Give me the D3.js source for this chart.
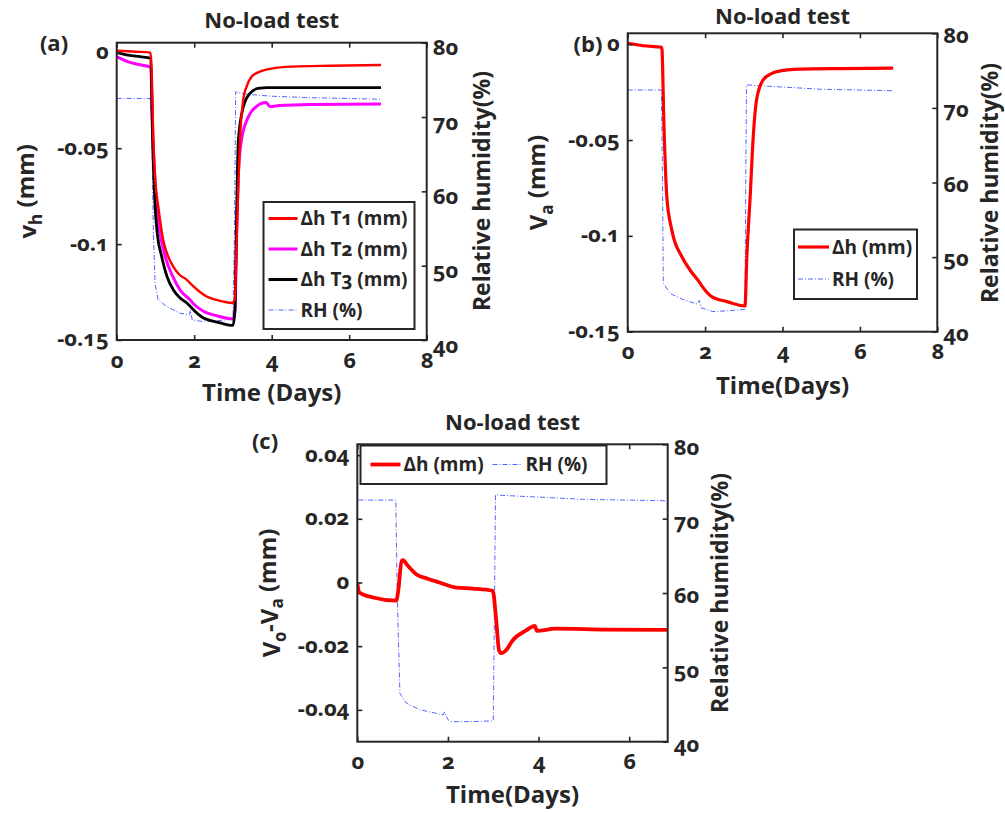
<!DOCTYPE html>
<html><head><meta charset="utf-8">
<script src="https://cdn.jsdelivr.net/npm/d3@7"></script>
<style>
body{margin:0;background:#fff}
text{font-family:"Open Sans","Noto Sans",sans-serif;font-weight:700;fill:#262626;font-feature-settings:"onum" 1;font-variant-numeric:oldstyle-nums}
</style>
</head><body>
<svg id="chart" width="1005" height="813"></svg>
<script>
// ---------------- DATA ----------------
const panelTitles = ["No-load test", "No-load test", "No-load test"];
const panelTags = ["(a)", "(b)", "(c)"];
const xTicksAB = [0, 2, 4, 6, 8];
const xTicksC = [0, 2, 4, 6];
const yTicksAB = [0, -0.05, -0.1, -0.15];
const yTicksC = [0.04, 0.02, 0, -0.02, -0.04];
const rhTicks = [40, 50, 60, 70, 80];
const legendA = ["Δh T1 (mm)", "Δh T2 (mm)", "Δh T3 (mm)", "RH (%)"];
const legendB = ["Δh (mm)", "RH (%)"];

// Panel (a)
const aT1Time = [0, 0.5, 0.87, 0.9, 0.945, 1.0, 1.07, 1.2, 1.32, 1.46, 1.62, 1.81, 1.9, 1.98, 2.15, 2.32, 2.55, 2.75, 3.0, 3.05, 3.1, 3.18, 3.27, 3.35, 3.48, 3.65, 3.83, 4.0, 4.52, 5.5, 6.82];
const aT1 = [0.0008, 0.0003, -0.0002, -0.008, -0.0457, -0.068, -0.080, -0.0978, -0.106, -0.1117, -0.1160, -0.1186, -0.1205, -0.122, -0.125, -0.1273, -0.129, -0.130, -0.1307, -0.128, -0.095, -0.0457, -0.024, -0.018, -0.0127, -0.0105, -0.0092, -0.0085, -0.0075, -0.007, -0.0066];
const aT2Time = [0, 0.3, 0.6, 0.88, 0.92, 1.03, 1.1, 1.25, 1.45, 1.63, 1.89, 2.0, 2.24, 2.6, 3.0, 3.05, 3.1, 3.14, 3.22, 3.4, 3.6, 3.86, 3.95, 4.2, 5.0, 6.82];
const aT2 = [-0.0023, -0.005, -0.0065, -0.0078, -0.035, -0.080, -0.092, -0.1064, -0.117, -0.1238, -0.129, -0.1315, -0.135, -0.1375, -0.139, -0.135, -0.09, -0.063, -0.0457, -0.0335, -0.0283, -0.0262, -0.0283, -0.0278, -0.0272, -0.0270];
const aT3Time = [0, 0.3, 0.6, 0.88, 0.92, 0.99, 1.05, 1.16, 1.3, 1.46, 1.63, 1.81, 1.9, 1.98, 2.1, 2.24, 2.45, 2.67, 3.0, 3.05, 3.09, 3.14, 3.27, 3.44, 3.65, 3.9, 4.5, 6.82];
const aT3 = [0, -0.0015, -0.0023, -0.0031, -0.04, -0.080, -0.095, -0.1064, -0.117, -0.1238, -0.128, -0.1307, -0.1325, -0.1342, -0.1365, -0.1385, -0.1400, -0.1411, -0.1424, -0.135, -0.09, -0.0457, -0.0283, -0.0214, -0.0188, -0.0184, -0.0184, -0.0184];
const aRHTime = [0, 0.5, 0.86, 0.9, 0.945, 0.99, 1.07, 1.29, 1.63, 1.88, 1.9, 1.95, 2.2, 2.6, 3.0, 3.04, 3.07, 3.2, 3.5, 4.0, 5.0, 6.82];
const aRH = [72.5, 72.5, 72.5, 70, 55, 47.6, 45.4, 44.5, 43.6, 43.4, 44.0, 42.7, 42.5, 42.6, 42.8, 55, 73.4, 73.2, 73.0, 72.8, 72.6, 72.4];

// Panel (b)
const bDhTime = [0, 0.4, 0.88, 0.94, 1.01, 1.14, 1.4, 1.61, 1.87, 1.93, 2.17, 2.56, 3.03, 3.08, 3.16, 3.25, 3.33, 3.5, 3.7, 3.85, 4.45, 5.5, 6.86];
const bDh = [0.0005, -0.0008, -0.0016, -0.0447, -0.0795, -0.097, -0.1109, -0.1178, -0.1247, -0.1265, -0.1317, -0.1343, -0.1366, -0.11, -0.0813, -0.0464, -0.029, -0.0186, -0.0155, -0.0143, -0.013, -0.0127, -0.0125];
const bRHTime = [0, 0.5, 0.87, 0.9, 0.92, 1.1, 1.46, 1.8, 1.85, 1.9, 2.2, 2.6, 3.03, 3.05, 3.07, 3.3, 4.0, 5.0, 6.86];
const bRH = [72.4, 72.4, 72.4, 60, 46.5, 45.1, 44.25, 43.7, 44.2, 43.2, 42.7, 42.8, 43.0, 60, 73.1, 73.0, 72.8, 72.5, 72.3];

// Panel (c)
const cDhTime = [0, 0.04, 0.35, 0.86, 0.9, 0.98, 1.01, 1.1, 1.3, 1.55, 1.81, 2.18, 2.55, 2.99, 3.06, 3.13, 3.18, 3.3, 3.42, 3.71, 3.92, 3.96, 4.37, 5.5, 6.85];
const cDh = [0, -0.0031, -0.0047, -0.0057, -0.003, 0.0068, 0.0070, 0.0055, 0.0026, 0.0012, 0, -0.0016, -0.0019, -0.0026, -0.011, -0.0214, -0.0222, -0.021, -0.0183, -0.0152, -0.0136, -0.0152, -0.0145, -0.0148, -0.0149];
const cRHTime = [0, 0.01, 0.5, 0.85, 0.88, 0.94, 1.08, 1.38, 1.9, 1.92, 2.0, 2.05, 2.5, 3.0, 3.03, 3.05, 3.3, 4.0, 5.0, 6.85];
const cRH = [80.5, 72.5, 72.5, 72.5, 60, 46.5, 45.2, 44.3, 43.6, 44.0, 43.0, 42.7, 42.7, 42.8, 60, 73.2, 73.1, 72.9, 72.6, 72.4];

// ---------------- DRAWING ----------------
const svg = d3.select("#chart");
const TXT = "#262626";

function label(parent, x, y, content, o = {}) {
  const size = o.size || 20, anchor = o.anchor || "middle", rot = o.rot || 0;
  const t = parent.append("text")
    .attr("transform", rot ? `translate(${x},${y}) rotate(${rot})` : `translate(${x},${y})`)
    .attr("text-anchor", anchor)
    .attr("dy", o.dy || "0.35em")
    .style("font-size", size + "px");
  if (typeof content === "string") t.text(content); else content(t);
  return t;
}

const fmt = d => d === 0 ? "0" : String(+d.toFixed(3));
const TICK_FS = 22;

function panel(cfg) {
  const g = svg.append("g");
  const x = d3.scaleLinear().domain(cfg.xDomain).range([cfg.x0, cfg.x1]);
  const yL = d3.scaleLinear().domain(cfg.yDomain).range([cfg.y1, cfg.y0]);
  const yR = d3.scaleLinear().domain([40, 80]).range([cfg.y1, cfg.y0]);
  const clipId = "clip" + cfg.id;
  svg.append("clipPath").attr("id", clipId).append("rect")
    .attr("x", cfg.x0).attr("y", cfg.y0).attr("width", cfg.x1 - cfg.x0).attr("height", cfg.y1 - cfg.y0);

  const plot = g.append("g").attr("clip-path", `url(#${clipId})`);
  cfg.series.forEach(s => {
    const ys = s.right ? yR : yL;
    const pts = s.t.map((t, i) => [t, s.v[i]]);
    plot.append("path").datum(pts)
      .attr("fill", "none").attr("stroke", s.color).attr("stroke-width", s.w)
      .attr("stroke-dasharray", s.dash || null)
      .attr("stroke-linejoin", "round")
      .attr("d", d3.line().x(d => x(d[0])).y(d => ys(d[1])).curve(s.right ? d3.curveLinear : d3.curveMonotoneX));
  });

  const styleAxis = sel => {
    sel.select(".domain").remove();
    sel.selectAll(".tick line").attr("stroke", TXT).attr("stroke-width", 1.6);
    sel.selectAll(".tick text").attr("fill", TXT).attr("font-family", null).attr("font-size", null)
      .style("font-size", TICK_FS + "px");
  };
  const bottom = g.append("g").attr("transform", `translate(0,${cfg.y1})`)
    .call(d3.axisBottom(x).tickValues(cfg.xTicks).tickSizeInner(-5).tickSizeOuter(0).tickPadding(0).tickFormat(fmt));
  styleAxis(bottom);
  bottom.selectAll(".tick text").attr("y", 27.5).attr("dy", null);
  const top = g.append("g").attr("transform", `translate(0,${cfg.y0})`)
    .call(d3.axisTop(x).tickValues(cfg.xTicks).tickSizeInner(-5).tickSizeOuter(0).tickFormat(""));
  styleAxis(top);
  const left = g.append("g").attr("transform", `translate(${cfg.x0},0)`)
    .call(d3.axisLeft(yL).tickValues(cfg.yTicks).tickSizeInner(-5).tickSizeOuter(0).tickPadding(8).tickFormat(fmt));
  styleAxis(left);
  left.selectAll(".tick text").attr("dy", "0.27em");
  const right = g.append("g").attr("transform", `translate(${cfg.x1},0)`)
    .call(d3.axisRight(yR).tickValues(rhTicks).tickSizeInner(-5).tickSizeOuter(0).tickPadding(6).tickFormat(d3.format("d")));
  styleAxis(right);
  right.selectAll(".tick text").attr("dy", cfg.rDy);

  g.append("rect").attr("x", cfg.x0).attr("y", cfg.y0)
    .attr("width", cfg.x1 - cfg.x0).attr("height", cfg.y1 - cfg.y0)
    .attr("fill", "none").attr("stroke", TXT).attr("stroke-width", 2);

  label(g, (cfg.x0 + cfg.x1) / 2, cfg.titleY, cfg.title, { size: 22 });
  label(g, cfg.tagX, cfg.tagY, cfg.tag, { size: 22 });
  label(g, (cfg.x0 + cfg.x1) / 2, cfg.xLabelY, cfg.xLabel, { size: 24 });
  label(g, cfg.yLabelX, (cfg.y0 + cfg.y1) / 2, cfg.yLabel, { size: 24, rot: -90 });
  label(g, cfg.rLabelX, cfg.rLabelY, "Relative humidity(%)", { size: cfg.rLabelSize, rot: -90 });

  const L = cfg.legend;
  const lg = g.append("g");
  lg.append("rect").attr("x", L.x).attr("y", L.y).attr("width", L.w).attr("height", L.h)
    .attr("fill", "#fff").attr("stroke", TXT).attr("stroke-width", 2);
  L.items.forEach(it => {
    const s = cfg.series[it.s];
    const lx = L.x + it.dx, ly = L.y + it.dy;
    lg.append("line").attr("x1", lx).attr("x2", lx + L.lineLen).attr("y1", ly).attr("y2", ly)
      .attr("stroke", s.color).attr("stroke-width", s.right ? s.w : Math.max(s.w, 3))
      .attr("stroke-dasharray", s.dash || null);
    label(lg, lx + L.lineLen + 3, ly, it.text, { size: 19, anchor: "start" });
  });
}

const rhStyle = { color: "#2a3cff", w: 0.8, dash: "5,2,1,2", right: true };
const sub = (t, s) => t.append("tspan").attr("dy", "0.3em").style("font-size", "17px").text(s);
const up = (t, s) => t.append("tspan").attr("dy", "-0.3em").text(s);

panel({
  id: "a", x0: 116.7, x1: 426.7, y0: 42.7, y1: 340,
  xDomain: [0, 8], yDomain: [-0.15, 0.005], xTicks: xTicksAB, yTicks: yTicksAB,
  title: panelTitles[0], titleY: 20, tag: panelTags[0], tagX: 54, tagY: 43,
  xLabel: "Time (Days)", xLabelY: 393, rDy: "0.55em",
  yLabel: t => { t.append("tspan").text("v"); sub(t, "h"); up(t, " (mm)"); },
  yLabelX: 28, rLabelX: 482, rLabelY: 191, rLabelSize: 23,
  series: [
    { t: aRHTime, v: aRH, ...rhStyle },
    { t: aT2Time, v: aT2, color: "#ff00ff", w: 3 },
    { t: aT3Time, v: aT3, color: "#000000", w: 2.8 },
    { t: aT1Time, v: aT1, color: "#ff0000", w: 2.4 }
  ],
  legend: { x: 263.5, y: 202, w: 151, h: 127, lineLen: 29,
    items: [
      { s: 3, text: legendA[0], dx: 5, dy: 16.5 },
      { s: 1, text: legendA[1], dx: 5, dy: 47 },
      { s: 2, text: legendA[2], dx: 5, dy: 77.5 },
      { s: 0, text: legendA[3], dx: 5, dy: 108 }
    ] }
});

panel({
  id: "b", x0: 627.7, x1: 937.3, y0: 33.3, y1: 331.7,
  xDomain: [0, 8], yDomain: [-0.15, 0.0057], xTicks: xTicksAB, yTicks: yTicksAB,
  title: panelTitles[1], titleY: 16, tag: panelTags[1], tagX: 588, tagY: 44,
  xLabel: "Time(Days)", xLabelY: 386, rDy: "0.4em",
  yLabel: t => { t.append("tspan").text("V"); sub(t, "a"); up(t, " (mm)"); },
  yLabelX: 539, rLabelX: 990, rLabelY: 183, rLabelSize: 23,
  series: [
    { t: bRHTime, v: bRH, ...rhStyle },
    { t: bDhTime, v: bDh, color: "#ff0000", w: 3.2 }
  ],
  legend: { x: 794, y: 229.5, w: 123, h: 69.5, lineLen: 31,
    items: [
      { s: 1, text: legendB[0], dx: 4, dy: 17.5 },
      { s: 0, text: legendB[1], dx: 4, dy: 49.5 }
    ] }
});

panel({
  id: "c", x0: 357.3, x1: 667.7, y0: 444.3, y1: 741.7,
  xDomain: [0, 6.85], yDomain: [-0.05, 0.0434], xTicks: xTicksC, yTicks: yTicksC,
  title: panelTitles[2], titleY: 422, tag: panelTags[2], tagX: 265, tagY: 441,
  xLabel: "Time(Days)", xLabelY: 795, rDy: "0.45em",
  yLabel: t => { t.append("tspan").text("V"); sub(t, "0"); up(t, "-V"); sub(t, "a"); up(t, " (mm)"); },
  yLabelX: 272, rLabelX: 720, rLabelY: 593, rLabelSize: 23,
  series: [
    { t: cRHTime, v: cRH, ...rhStyle },
    { t: cDhTime, v: cDh, color: "#ff0000", w: 3.8 }
  ],
  legend: { x: 360.5, y: 445.5, w: 246, h: 38.5, lineLen: 30,
    items: [
      { s: 1, text: legendB[0], dx: 10, dy: 19 },
      { s: 0, text: legendB[1], dx: 132, dy: 19 }
    ] }
});
</script>
</body></html>
